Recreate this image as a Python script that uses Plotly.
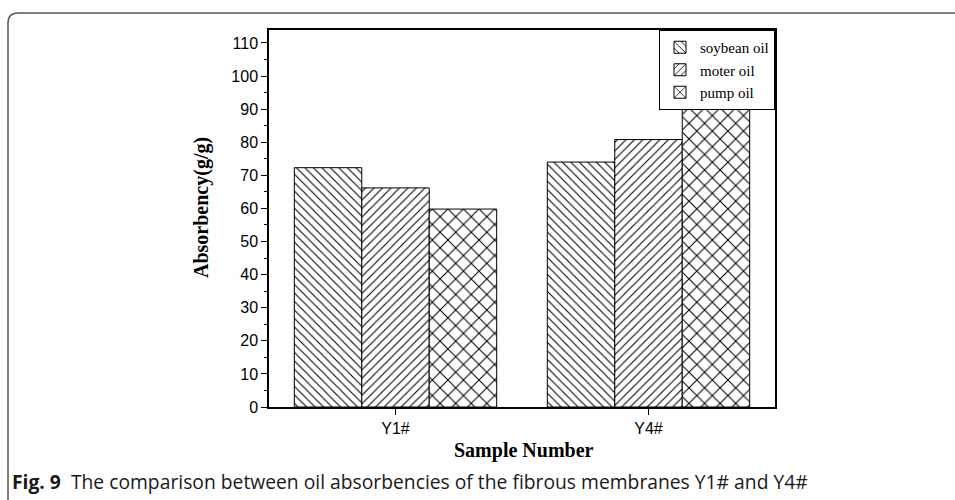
import plotly.graph_objects as go

categories = ["Y1#", "Y4#"]
series_names = ["soybean oil", "moter oil", "pump oil"]
soybean = [72.3, 74.0]
moter = [66.2, 80.8]
pump = [59.8, 90.9]
y_ticks = list(range(0, 111, 10))

W, H = 955, 500
L, R, T, B = 269, 180, 30, 93
pw, ph = W - L - R, H - T - B

def px(x):
    return (x - L) / pw

def py(y):
    return (H - B - y) / ph

patterns = [("\\", 6), ("/", 6), ("x", 11)]
fig = go.Figure()
for name, vals, (shape, size) in zip(series_names, [soybean, moter, pump], patterns):
    fig.add_trace(go.Bar(
        x=categories, y=vals, name=name,
        marker=dict(color="white", line=dict(color="black", width=1),
                    pattern=dict(shape=shape, size=size, solidity=0.18,
                                 fgcolor="black", bgcolor="white", fillmode="replace")),
    ))

fig.update_layout(
    width=W, height=H,
    margin=dict(l=L, r=R, t=T, b=B),
    paper_bgcolor="white", plot_bgcolor="white",
    barmode="group", bargap=0.2, bargroupgap=0,
    showlegend=True,
    legend=dict(x=1, y=1, xanchor="right", yanchor="top",
                bgcolor="white", bordercolor="black", borderwidth=1,
                font=dict(family="Liberation Serif", size=15, color="black"),
                tracegroupgap=0, itemwidth=30),
    font=dict(family="Liberation Sans", color="black"),
)
fig.update_xaxes(
    range=[-0.5, 1.5], showline=True, linecolor="black", linewidth=1.5, mirror=True,
    ticks="outside", ticklen=6, tickcolor="black", tickwidth=1.2,
    tickfont=dict(family="Liberation Sans", size=16, color="black"),
    showgrid=False, zeroline=False,
)
fig.update_yaxes(
    range=[0, 113.9], tickvals=y_ticks, showline=True, linecolor="black", linewidth=1.5, mirror=True,
    ticks="outside", ticklen=6, tickcolor="black", tickwidth=1.2,
    minor=dict(dtick=5, ticks="outside", ticklen=3, tickcolor="black", tickwidth=1.2, showgrid=False),
    tickfont=dict(family="Liberation Sans", size=16, color="black"),
    showgrid=False, zeroline=False,
)

fig.add_annotation(text="<b>Absorbency(g/g)</b>", xref="paper", yref="paper",
                   x=px(201), y=py(208), xanchor="center", yanchor="middle",
                   textangle=-90, showarrow=False,
                   font=dict(family="Liberation Serif", size=20, color="black"))
fig.add_annotation(text="<b>Sample Number</b>", xref="paper", yref="paper",
                   x=px(524), y=py(451), xanchor="center", yanchor="middle",
                   showarrow=False,
                   font=dict(family="Liberation Serif", size=20, color="black"))
fig.add_annotation(text="<b>Fig. 9</b>  The comparison between oil absorbencies of the fibrous membranes Y1# and Y4#",
                   xref="paper", yref="paper", x=px(10), y=py(481),
                   xanchor="left", yanchor="middle", showarrow=False,
                   font=dict(family="Open Sans", size=19.3, color="#1a1a1a"))

r = 10
path = (f"M {px(8)} {py(520)} L {px(8)} {py(13 + r)} "
        f"Q {px(8)} {py(13)} {px(8 + r)} {py(13)} L {px(970)} {py(13)}")
fig.add_shape(type="path", path=path, xref="paper", yref="paper",
              line=dict(color="#555", width=1.5))

fig.write_html("out.html")
